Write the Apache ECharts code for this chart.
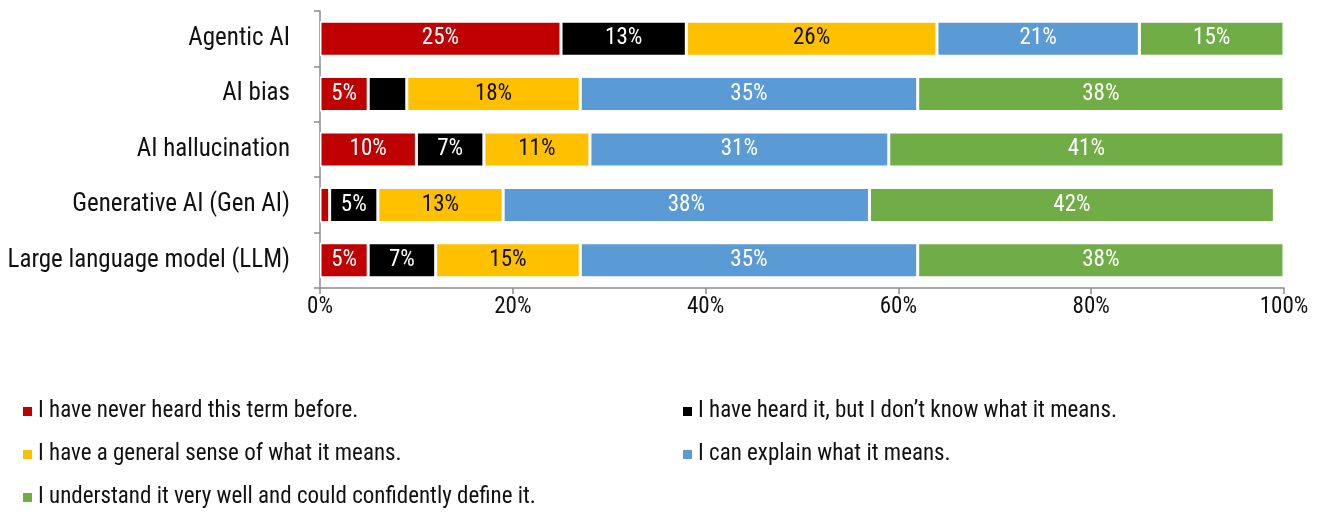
<!DOCTYPE html>
<html>
<head>
<meta charset="utf-8">
<script src="https://cdn.jsdelivr.net/npm/echarts@6/dist/echarts.min.js"></script>
<style>
  html, body { margin: 0; padding: 0; background: #fff; }
  #chart { width: 1320px; height: 512px; }
</style>
</head>
<body>
<div id="chart"></div>
<script>
// Survey terms, top to bottom
const categories = [
  'Agentic AI',
  'AI bias',
  'AI hallucination',
  'Generative AI (Gen AI)',
  'Large language model (LLM)'
];

// Response shares (%) per term
const neverHeard   = [25, 5, 10, 1, 5];
const heardNoIdea  = [13, 4, 7, 5, 7];
const generalSense = [26, 18, 11, 13, 15];
const canExplain   = [21, 35, 31, 38, 35];
const understand   = [15, 38, 41, 42, 38];

const seriesNames = [
  'I have never heard this term before.',
  'I have heard it, but I don\u2019t know what it means.',
  'I have a general sense of what it means.',
  'I can explain what it means.',
  'I understand it very well and could confidently define it.'
];

const xTicks = [0, 20, 40, 60, 80, 100];

const FONT = '"Roboto Condensed", "Liberation Sans", Arial, sans-serif';
const colors = ['#C00000', '#000000', '#FFC000', '#5B9BD5', '#70AD47'];
const labelColors = ['#ffffff', '#ffffff', '#111111', '#ffffff', '#ffffff'];
const values = [neverHeard, heardNoIdea, generalSense, canExplain, understand];

const series = values.map((vals, i) => ({
  name: seriesNames[i],
  type: 'bar',
  stack: 'total',
  barWidth: 35,
  data: vals,
  itemStyle: { color: colors[i], borderColor: '#ffffff', borderWidth: 1.5 },
  label: {
    show: true,
    position: 'inside',
    color: labelColors[i],
    fontFamily: FONT,
    fontSize: 23,
    formatter: p => (p.value >= 5 ? p.value + '%' : '')
  },
  emphasis: { disabled: true }
}));

const legendText = { fontFamily: FONT, fontSize: 23, color: '#111111' };

const legendBase = {
  orient: 'vertical',
  top: 395,
  height: 130,
  itemGap: 20,
  itemWidth: 11,
  itemHeight: 11,
  icon: 'rect',
  selectedMode: false,
  textStyle: legendText
};

const chart = echarts.init(document.getElementById('chart'), null, { renderer: 'canvas' });
chart.setOption({
  animation: false,
  backgroundColor: '#ffffff',
  grid: { left: 320, right: 36, top: 11, bottom: 224, containLabel: false },
  xAxis: {
    type: 'value',
    min: 0,
    max: 100,
    interval: 20,
    axisLine: { show: true, lineStyle: { color: '#8c8c8c', width: 1.5 } },
    axisTick: { show: true, length: 6, lineStyle: { color: '#8c8c8c', width: 1.5 } },
    splitLine: { show: false },
    axisLabel: {
      margin: 8,
      fontFamily: FONT,
      fontSize: 23,
      color: '#111111',
      formatter: v => (xTicks.includes(v) ? v + '%' : '')
    }
  },
  yAxis: {
    type: 'category',
    inverse: true,
    data: categories,
    axisLine: { show: true, lineStyle: { color: '#8c8c8c', width: 1.5 } },
    axisTick: { show: true, length: 6, lineStyle: { color: '#8c8c8c', width: 1.5 } },
    axisLabel: { margin: 30, fontFamily: FONT, fontSize: 25, color: '#111111' }
  },
  legend: [
    Object.assign({}, legendBase, {
      left: 16,
      data: [seriesNames[0], seriesNames[2], seriesNames[4]]
    }),
    Object.assign({}, legendBase, {
      left: 676,
      data: [seriesNames[1], seriesNames[3]]
    })
  ],
  series: series
});
</script>
</body>
</html>
